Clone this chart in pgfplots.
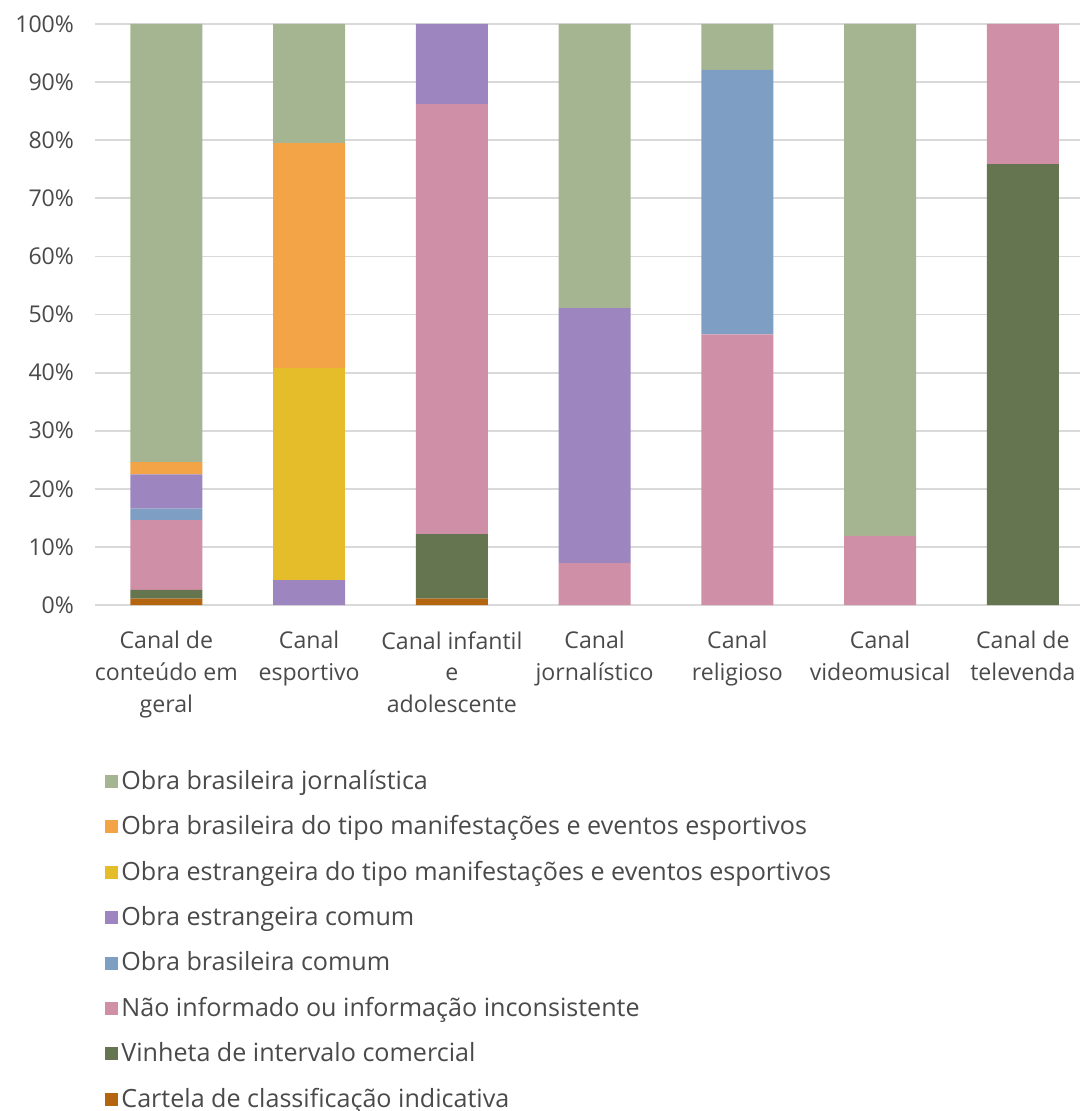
\documentclass[border=0pt]{standalone}
\usepackage{pgfplots}
\pgfplotsset{compat=1.18}
\usepackage{fontspec}
\setmainfont{Open Sans}
\definecolor{cJorn}{HTML}{A5B592}
\definecolor{cBrEsp}{HTML}{F2A447}
\definecolor{cEsEsp}{HTML}{E5BC2A}
\definecolor{cEsCom}{HTML}{9D86C0}
\definecolor{cBrCom}{HTML}{7F9EC3}
\definecolor{cNao}{HTML}{CF8FA6}
\definecolor{cVin}{HTML}{64754F}
\definecolor{cCart}{HTML}{B4650F}
\definecolor{gridgray}{HTML}{D9D9D9}
\definecolor{labelgray}{HTML}{4A4A4A}
\begin{document}
\begin{tikzpicture}
\begin{axis}[
  at={(0,0)}, anchor=south west,
  scale only axis, width=492.5bp, height=290.5bp,
  ybar stacked, bar width=36bp,
  xmin=-0.5, xmax=6.4, ymin=0, ymax=100,
  xtick={0,...,6},
  xticklabels={{Canal de\\conteúdo em\\geral},{Canal\\esportivo},{Canal infantil\\e\\adolescente},{Canal\\jornalístico},{Canal\\religioso},{Canal\\videomusical},{Canal de\\televenda}},
  ytick={0,10,...,100},
  /pgf/number format/assume math mode=true,
  yticklabel={\pgfmathprintnumber{\tick}\%},
  ymajorgrids, grid style={draw=gridgray, line width=0.9bp},
  axis line style={draw=none},
  major tick length=0pt,
  tick label style={font=\fontsize{11.6}{16}\selectfont, text=labelgray},
  yticklabel style={xshift=-7bp},
  xticklabel style={align=center, inner sep=0pt, yshift=-13bp},
  reverse legend,
  legend cell align=left,
  legend style={at={(0.0102,-0.2874)}, anchor=north west, draw=none, inner sep=0pt,
    font=\fontsize{12.6}{14}\selectfont, text=labelgray, row sep=11.7bp,
    nodes={inner sep=0pt, text height=8.5bp, text depth=2.5bp}},
  legend image code/.code={\fill[#1] (0bp,-2.3bp) rectangle (6.5bp,4.2bp);},
  every axis plot/.append style={draw=none},
]
\addplot[fill=cCart] coordinates {(0,1.1) (1,0) (2,1.1) (3,0) (4,0) (5,0) (6,0)};
\addlegendentry{\hspace{1.5bp}Cartela de classificação indicativa}
\addplot[fill=cVin] coordinates {(0,1.5) (1,0) (2,11.1) (3,0) (4,0) (5,0) (6,75.9)};
\addlegendentry{\hspace{1.5bp}Vinheta de intervalo comercial}
\addplot[fill=cNao] coordinates {(0,12.0) (1,0) (2,74.0) (3,7.2) (4,46.6) (5,11.9) (6,24.1)};
\addlegendentry{\hspace{1.5bp}Não informado ou informação inconsistente}
\addplot[fill=cBrCom] coordinates {(0,2.0) (1,0) (2,0) (3,0) (4,45.5) (5,0) (6,0)};
\addlegendentry{\hspace{1.5bp}Obra brasileira comum}
\addplot[fill=cEsCom] coordinates {(0,5.9) (1,4.3) (2,13.8) (3,43.9) (4,0) (5,0) (6,0)};
\addlegendentry{\hspace{1.5bp}Obra estrangeira comum}
\addplot[fill=cEsEsp] coordinates {(0,0) (1,36.5) (2,0) (3,0) (4,0) (5,0) (6,0)};
\addlegendentry{\hspace{1.5bp}Obra estrangeira do tipo manifestações e eventos esportivos}
\addplot[fill=cBrEsp] coordinates {(0,2.1) (1,38.7) (2,0) (3,0) (4,0) (5,0) (6,0)};
\addlegendentry{\hspace{1.5bp}Obra brasileira do tipo manifestações e eventos esportivos}
\addplot[fill=cJorn] coordinates {(0,75.4) (1,20.5) (2,0) (3,48.9) (4,7.9) (5,88.1) (6,0)};
\addlegendentry{\hspace{1.5bp}Obra brasileira jornalística}
\end{axis}
\pgfresetboundingbox
\useasboundingbox (-47.5bp,-253bp) rectangle (492.5bp,302.5bp);
\end{tikzpicture}
\end{document}
